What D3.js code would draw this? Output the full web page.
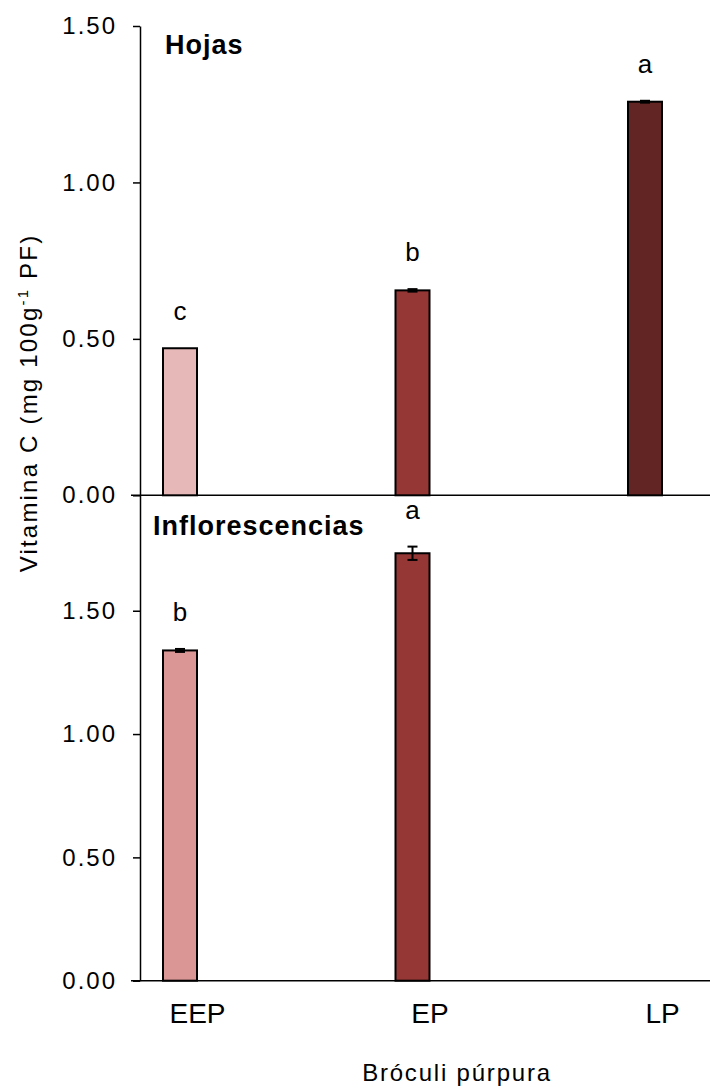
<!DOCTYPE html>
<html>
<head>
    <meta charset="utf-8" />
    <title>Vitamina C - Bróculi púrpura</title>
    <script src="https://cdn.jsdelivr.net/npm/d3@7"></script>
    <style>
        html, body { margin: 0; padding: 0; background: #fff; }
        text { font-family: "Liberation Sans", Arial, sans-serif; fill: #000; }
    </style>
</head>
<body>
<script>
    // datos
    var categories = ['EEP', 'EP', 'LP'];
    var yTicks = [0, 0.5, 1.0, 1.5];

    var hojasValues = [0.470, 0.655, 1.258];
    var hojasErrors = [0, 0.004, 0.003];
    var hojasLetters = ['c', 'b', 'a'];
    var hojasColors = ['#E6B9B8', '#953735', '#632523'];

    var inflorValues = [1.339, 1.733, null];
    var inflorErrors = [0.006, 0.027, null];
    var inflorLetters = ['b', 'a', ''];
    var inflorColors = ['#D99694', '#953735', '#632523'];

    var width = 710, height = 1092;
    var axisX = 140, rightX = 710;
    var barW = 34;
    var FONT = '"Liberation Sans", Arial, sans-serif';

    var svg = d3.select('body').append('svg').attr('width', width).attr('height', height);

    var x = d3.scalePoint().domain(categories).range([197, 662]);

    var yTop = d3.scaleLinear().domain([0, 1.5]).range([495.3, 26]);
    var yBot = d3.scaleLinear().domain([0, 1.968]).range([980.7, 495.3]);

    function panel(y, values, errors, letters, colors, title, titleY) {
        var g = svg.append('g');
        var rows = categories.map(function (c, i) {
            return {cat: c, v: values[i], e: errors[i], l: letters[i], col: colors[i]};
        }).filter(function (d) { return d.v != null; });

        // eje y
        var ax = g.append('g').attr('transform', 'translate(' + axisX + ',0)')
            .call(d3.axisLeft(y).tickValues(yTicks).tickSize(7).tickSizeOuter(0).tickPadding(16)
                .tickFormat(d3.format('.2f')));
        ax.select('.domain').attr('stroke', '#000').attr('stroke-width', 1.5);
        ax.selectAll('.tick line').attr('stroke', '#000').attr('stroke-width', 1.5);
        ax.selectAll('.tick text').attr('font-size', 24).attr('letter-spacing', '2px')
            .style('font-family', FONT);

        // línea base
        g.append('line').attr('x1', axisX - 9).attr('x2', rightX)
            .attr('y1', y(0)).attr('y2', y(0)).attr('stroke', '#000').attr('stroke-width', 1.5);

        g.selectAll('.bar').data(rows).enter().append('rect')
            .attr('class', 'bar')
            .attr('x', function (d) { return x(d.cat) - barW; })
            .attr('y', function (d) { return y(d.v); })
            .attr('width', barW)
            .attr('height', function (d) { return y(0) - y(d.v); })
            .attr('fill', function (d) { return d.col; })
            .attr('stroke', '#000').attr('stroke-width', 2);

        var eb = g.selectAll('.err').data(rows.filter(function (d) { return d.e > 0; }))
            .enter().append('g').attr('class', 'err').attr('stroke', '#000').attr('stroke-width', 2);
        eb.append('line')
            .attr('x1', function (d) { return x(d.cat) - barW / 2; })
            .attr('x2', function (d) { return x(d.cat) - barW / 2; })
            .attr('y1', function (d) { return y(d.v - d.e); })
            .attr('y2', function (d) { return y(d.v + d.e); });
        [1, -1].forEach(function (s) {
            eb.append('line')
                .attr('x1', function (d) { return x(d.cat) - barW / 2 - 5; })
                .attr('x2', function (d) { return x(d.cat) - barW / 2 + 5; })
                .attr('y1', function (d) { return y(d.v + s * d.e); })
                .attr('y2', function (d) { return y(d.v + s * d.e); });
        });

        g.selectAll('.letter').data(rows).enter().append('text')
            .attr('class', 'letter')
            .attr('x', function (d) { return x(d.cat) - barW / 2; })
            .attr('y', function (d) { return y(d.v + d.e) - 28; })
            .attr('text-anchor', 'middle')
            .attr('font-size', 26)
            .text(function (d) { return d.l; });

        g.append('text').attr('x', title.x).attr('y', titleY)
            .attr('font-size', 27).attr('font-weight', 'bold').attr('letter-spacing', '1px')
            .text(title.t);
    }

    panel(yTop, hojasValues, hojasErrors, hojasLetters, hojasColors, {t: 'Hojas', x: 165}, 54);
    panel(yBot, inflorValues, inflorErrors, inflorLetters, inflorColors, {t: 'Inflorescencias', x: 153}, 535);

    // etiquetas del eje x
    var xa = svg.append('g').attr('transform', 'translate(0,' + yBot(0) + ')')
        .call(d3.axisBottom(x).tickSize(0).tickPadding(22));
    xa.select('.domain').remove();
    xa.selectAll('.tick text').attr('font-size', 28).style('font-family', FONT);

    svg.append('text').attr('x', 457).attr('y', 1081).attr('text-anchor', 'middle')
        .attr('font-size', 24).attr('letter-spacing', '1.8px').text('Bróculi púrpura');

    var yl = svg.append('text').attr('transform', 'translate(37,403) rotate(-90)')
        .attr('text-anchor', 'middle').attr('font-size', 24).attr('letter-spacing', '2.2px');
    yl.append('tspan').text('Vitamina C (mg 100g');
    yl.append('tspan').attr('font-size', 15).attr('dy', -9).text('-1');
    yl.append('tspan').attr('dy', 9).text(' PF)');
</script>
</body>
</html>
